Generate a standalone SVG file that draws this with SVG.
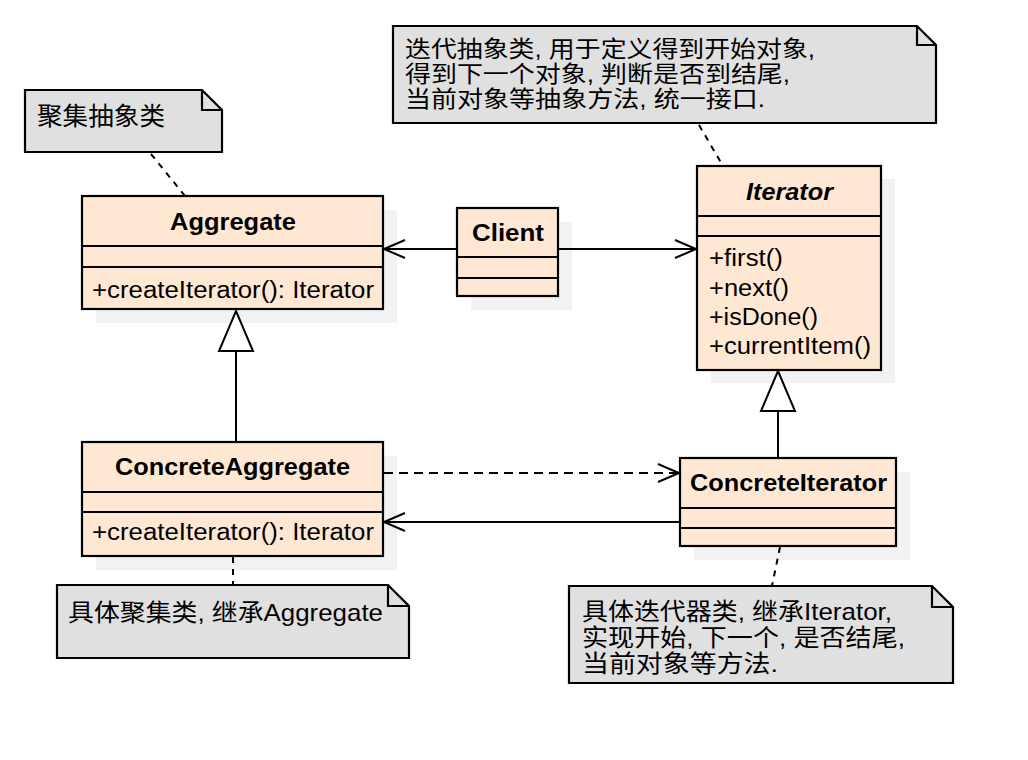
<svg xmlns="http://www.w3.org/2000/svg" width="1028" height="760" viewBox="0 0 1028 760">
<style>
.box{fill:#ffe8d3;stroke:#000;stroke-width:2.2}
.sh{fill:#f2f2f2}
.div{stroke:#000;stroke-width:2.2}
.note{fill:#e0e0e0;stroke:#000;stroke-width:2.2;stroke-linejoin:miter}
.fold{fill:none;stroke:#000;stroke-width:2.2}
.t{font-family:"Liberation Sans",Arial,sans-serif;font-size:23px;fill:#000}
.b{font-weight:bold}
.i{font-style:italic}
.c{font-family:"Liberation Sans","Noto Sans CJK SC",sans-serif;fill:#000}
.ln{stroke:#000;stroke-width:2;fill:none}
.dash{stroke-dasharray:9 6}
.ndash{stroke:#000;stroke-width:2;fill:none;stroke-dasharray:6 6}
.tri{fill:#fff;stroke:#000;stroke-width:2}
</style>
<defs>
<marker id="open" markerUnits="userSpaceOnUse" markerWidth="26" markerHeight="22" viewBox="0 0 26 22" refX="23" refY="11" orient="auto">
<path d="M2,2 L23,11 L2,20" fill="none" stroke="#000" stroke-width="2"/>
</marker>
</defs>
<rect width="1028" height="760" fill="#fff"/>

<g id="note-aggregate">
<path class="note" d="M25,90 H202 L222,110 V152 H25 Z"/>
<path class="fold" d="M202,90 V110 H222"/>
<text class="c" x="37" y="125" font-size="25" textLength="128" lengthAdjust="spacingAndGlyphs">聚集抽象类</text>
</g>

<g id="note-iterator">
<path class="note" d="M393,26 H917 L936,45 V123 H393 Z"/>
<path class="fold" d="M917,26 V45 H936"/>
<text class="c" font-size="23" x="405" y="57" textLength="410" lengthAdjust="spacingAndGlyphs">迭代抽象类, 用于定义得到开始对象,</text>
<text class="c" font-size="23" x="405" y="82" textLength="385" lengthAdjust="spacingAndGlyphs">得到下一个对象, 判断是否到结尾,</text>
<text class="c" font-size="23" x="405" y="107" textLength="360" lengthAdjust="spacingAndGlyphs">当前对象等抽象方法, 统一接口.</text>
</g>

<g id="Aggregate">
<rect class="sh" x="96" y="210" width="301" height="113"/>
<rect class="box" x="82" y="196" width="301" height="113"/>
<line class="div" x1="82" y1="246" x2="383" y2="246"/>
<line class="div" x1="82" y1="267" x2="383" y2="267"/>
<text class="t b" x="233" y="230" text-anchor="middle" textLength="126" lengthAdjust="spacingAndGlyphs">Aggregate</text>
<text class="t" x="92" y="298" textLength="282" lengthAdjust="spacingAndGlyphs">+createIterator(): Iterator</text>
</g>

<g id="Client">
<rect class="sh" x="471" y="222" width="101" height="88"/>
<rect class="box" x="457" y="208" width="101" height="88"/>
<line class="div" x1="457" y1="257" x2="558" y2="257"/>
<line class="div" x1="457" y1="278" x2="558" y2="278"/>
<text class="t b" x="508" y="241" text-anchor="middle" textLength="72" lengthAdjust="spacingAndGlyphs">Client</text>
</g>

<g id="Iterator">
<rect class="sh" x="711" y="179" width="184" height="204"/>
<rect class="box" x="697" y="166" width="184" height="204"/>
<line class="div" x1="697" y1="216" x2="881" y2="216"/>
<line class="div" x1="697" y1="236" x2="881" y2="236"/>
<text class="t b i" x="789.5" y="200" text-anchor="middle" textLength="87" lengthAdjust="spacingAndGlyphs">Iterator</text>
<text class="t" x="709" y="266" textLength="74" lengthAdjust="spacingAndGlyphs">+first()</text>
<text class="t" x="709" y="296" textLength="80" lengthAdjust="spacingAndGlyphs">+next()</text>
<text class="t" x="709" y="325" textLength="109" lengthAdjust="spacingAndGlyphs">+isDone()</text>
<text class="t" x="709" y="354" textLength="162" lengthAdjust="spacingAndGlyphs">+currentItem()</text>
</g>

<g id="ConcreteAggregate">
<rect class="sh" x="96" y="456" width="301" height="114"/>
<rect class="box" x="82" y="442" width="301" height="114"/>
<line class="div" x1="82" y1="492" x2="383" y2="492"/>
<line class="div" x1="82" y1="512" x2="383" y2="512"/>
<text class="t b" x="232.5" y="475" text-anchor="middle" textLength="235" lengthAdjust="spacingAndGlyphs">ConcreteAggregate</text>
<text class="t" x="92" y="540" textLength="282" lengthAdjust="spacingAndGlyphs">+createIterator(): Iterator</text>
</g>

<g id="ConcreteIterator">
<rect class="sh" x="694" y="472" width="216" height="88"/>
<rect class="box" x="680" y="458" width="216" height="88"/>
<line class="div" x1="680" y1="508" x2="896" y2="508"/>
<line class="div" x1="680" y1="528" x2="896" y2="528"/>
<text class="t b" x="788.5" y="491" text-anchor="middle" textLength="197" lengthAdjust="spacingAndGlyphs">ConcreteIterator</text>
</g>

<g id="note-concreteaggregate">
<path class="note" d="M57,585 H388 L409,606 V658 H57 Z"/>
<path class="fold" d="M388,585 V606 H409"/>
<text class="c" font-size="24" x="68" y="621" textLength="315" lengthAdjust="spacingAndGlyphs">具体聚集类, 继承Aggregate</text>
</g>

<g id="note-concreteiterator">
<path class="note" d="M569,586 H932 L953,607 V683 H569 Z"/>
<path class="fold" d="M932,586 V607 H953"/>
<text class="c" font-size="24" x="582" y="620" textLength="310" lengthAdjust="spacingAndGlyphs">具体迭代器类, 继承Iterator,</text>
<text class="c" font-size="24" x="582" y="646" textLength="323" lengthAdjust="spacingAndGlyphs">实现开始, 下一个, 是否结尾,</text>
<text class="c" font-size="24" x="582" y="672" textLength="196" lengthAdjust="spacingAndGlyphs">当前对象等方法.</text>
</g>

<g id="connectors">
<line class="ndash" x1="151" y1="154" x2="185" y2="196"/>
<line class="ndash" x1="699" y1="125" x2="723" y2="166"/>
<line class="ndash" x1="233" y1="557" x2="233" y2="585"/>
<line class="ndash" x1="780" y1="547" x2="772" y2="586"/>
<line class="ln" x1="457" y1="249" x2="384" y2="249" marker-end="url(#open)"/>
<line class="ln" x1="558" y1="249" x2="696" y2="249" marker-end="url(#open)"/>
<line class="ln dash" x1="384" y1="473" x2="679" y2="473" marker-end="url(#open)"/>
<line class="ln" x1="680" y1="522" x2="384" y2="522" marker-end="url(#open)"/>
<line class="ln" x1="236" y1="441" x2="236" y2="351"/>
<polygon class="tri" points="236,311 253,351 219,351"/>
<line class="ln" x1="778" y1="457" x2="778" y2="411"/>
<polygon class="tri" points="778,371 795,411 761,411"/>
</g>
</svg>
